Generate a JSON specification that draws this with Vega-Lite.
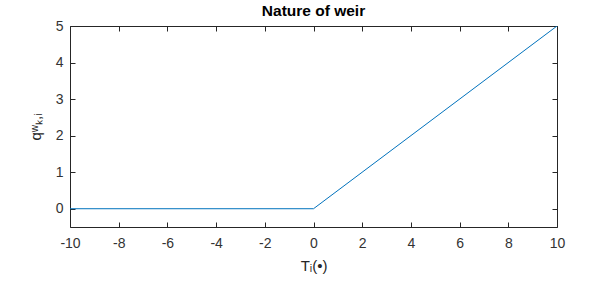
{
  "$schema": "https://vega.github.io/schema/vega-lite/v6.json",
  "autosize": "none",
  "padding": {"left": 70, "top": 26, "right": 41, "bottom": 55},
  "width": 487,
  "height": 201,
  "background": "white",
  "title": {"text": "Nature of weir", "font": "Liberation Sans", "fontSize": 15.5, "fontWeight": "bold", "color": "#000000", "offset": 6, "dy": 6, "anchor": "middle"},
  "data": {"values": [
    {"T": -10, "q": 0},
    {"T": 0, "q": 0},
    {"T": 10, "q": 5}
  ]},
  "config": {
    "view": {"stroke": null},
    "axis": {
      "grid": false,
      "domainColor": "#262626",
      "domainWidth": 1,
      "tickColor": "#262626",
      "tickSize": -5,
      "labelFont": "Liberation Sans",
      "labelFontSize": 14,
      "labelColor": "#333333",
      "labelFlush": false,
      "labelOverlap": false,
      "labelExpr": "'' + datum.value",
      "titleFont": "Liberation Sans",
      "titleFontSize": 15,
      "titleFontWeight": "normal",
      "titleColor": "#262626"
    }
  },
  "layer": [
    {
      "mark": {"type": "line", "color": "#0072BD", "strokeWidth": 1, "clip": true},
      "encoding": {
        "x": {"field": "T", "type": "quantitative", "scale": {"domain": [-10, 10], "nice": false, "zero": false},
          "axis": {"orient": "bottom", "values": [-10, -8, -6, -4, -2, 0, 2, 4, 6, 8, 10], "labelPadding": 14, "title": "Tᵢ(•)", "titlePadding": 8}},
        "y": {"field": "q", "type": "quantitative", "scale": {"domain": [-0.5, 5], "nice": false, "zero": false},
          "axis": {"orient": "left", "values": [0, 1, 2, 3, 4, 5], "labelPadding": 12, "title": "qʷₖ,ᵢ", "titlePadding": 12}}
      }
    },
    {
      "mark": {"type": "line", "opacity": 0},
      "encoding": {
        "x": {"field": "T", "type": "quantitative", "scale": {"domain": [-10, 10], "nice": false, "zero": false},
          "axis": {"orient": "top", "values": [-10, -8, -6, -4, -2, 0, 2, 4, 6, 8, 10], "labels": false, "title": null}},
        "y": {"field": "q", "type": "quantitative", "scale": {"domain": [-0.5, 5], "nice": false, "zero": false},
          "axis": {"orient": "right", "values": [0, 1, 2, 3, 4, 5], "labels": false, "title": null}}
      }
    }
  ],
  "resolve": {"axis": {"x": "independent", "y": "independent"}}
}
